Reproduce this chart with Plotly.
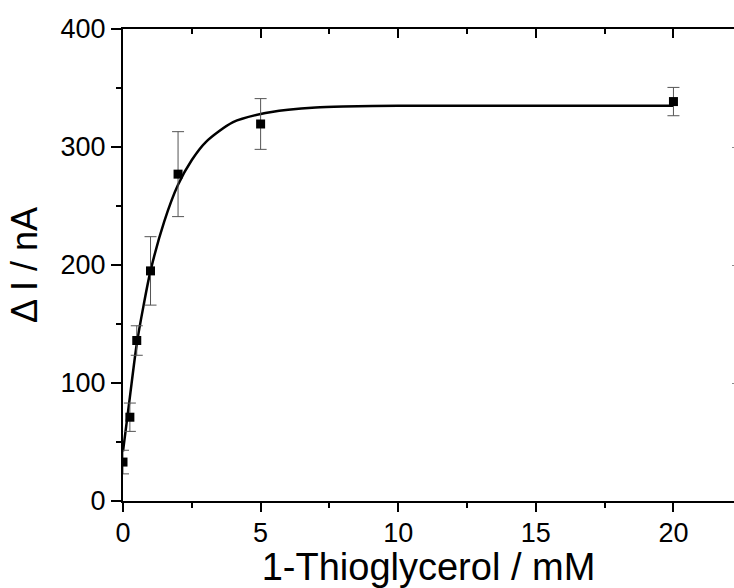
import plotly.graph_objects as go

# Measured data points
conc_mM = [0, 0.25, 0.5, 1, 2, 5, 20]
delta_I_nA = [33, 71, 136, 195, 277, 319.5, 338.5]
err_nA = [10, 12, 12.5, 29, 36, 21.5, 12]

# Fitted curve
fit_x = [0, 0.25, 0.5, 0.75, 1, 1.5, 2, 2.5, 3, 4, 5, 6, 7, 8, 10, 12, 15, 20]
fit_y = [42, 88, 133, 166, 195, 237, 268, 289, 304, 321, 328, 331.5, 333.5, 334.3, 335, 335, 335, 335]

x_ticks = [0, 5, 10, 15, 20]
y_ticks = [0, 100, 200, 300, 400]

FONT = "Liberation Sans, Arial, sans-serif"

fig = go.Figure()
fig.add_trace(go.Scatter(
    x=fit_x, y=fit_y, mode="lines", line=dict(color="black", width=2.5, shape="spline", smoothing=0.8),
    showlegend=False, hoverinfo="skip"))
fig.add_trace(go.Scatter(
    x=conc_mM, y=delta_I_nA, mode="markers",
    marker=dict(symbol="square", size=9, color="black"),
    error_y=dict(type="data", array=err_nA, visible=True, color="#555555", thickness=1, width=6),
    showlegend=False))

axis_common = dict(showgrid=False, zeroline=False, showline=True, linecolor="black", linewidth=2,
                   tickcolor="black", tickwidth=2)

fig.update_layout(
    width=734, height=588,
    margin=dict(l=123, r=0, t=29, b=87),
    paper_bgcolor="white", plot_bgcolor="white",
    font=dict(family=FONT, color="black", size=27),
    xaxis=dict(range=[0, 22.2], tickvals=x_ticks, ticks="outside", ticklen=9, ticklabelstandoff=-2,
               minor=dict(dtick=2.5, ticks="outside", ticklen=5, tickcolor="black", tickwidth=2),
               title=dict(text="1-Thioglycerol / mM", font=dict(size=38), standoff=3),
               tickfont=dict(size=27), **axis_common),
    xaxis2=dict(range=[0, 22.2], overlaying="x", side="top", tickvals=x_ticks, ticks="inside", ticklen=9,
                minor=dict(dtick=2.5, ticks="inside", ticklen=5, tickcolor="black", tickwidth=2),
                showticklabels=False, **axis_common),
    yaxis=dict(range=[0, 400], tickvals=y_ticks, ticks="outside", ticklen=10,
               minor=dict(dtick=50, ticks="outside", ticklen=5, tickcolor="black", tickwidth=2),
               title=dict(text="Δ I / nA", font=dict(size=36), standoff=12),
               tickfont=dict(size=27), **axis_common),
    yaxis2=dict(range=[0, 400], overlaying="y", side="right", tickvals=[100, 200, 300], ticks="inside",
                ticklen=2, showticklabels=False, showgrid=False, zeroline=False, showline=False,
                tickcolor="#888888", tickwidth=1),
)
# invisible trace to activate secondary axes
fig.add_trace(go.Scatter(x=[None], y=[None], xaxis="x2", yaxis="y2", showlegend=False, hoverinfo="skip"))

fig.write_html(
    "out.html",
    config={"displayModeBar": False},
    post_script="document.body.style.margin='0';document.documentElement.style.overflow='hidden';document.body.style.overflow='hidden';",
)
